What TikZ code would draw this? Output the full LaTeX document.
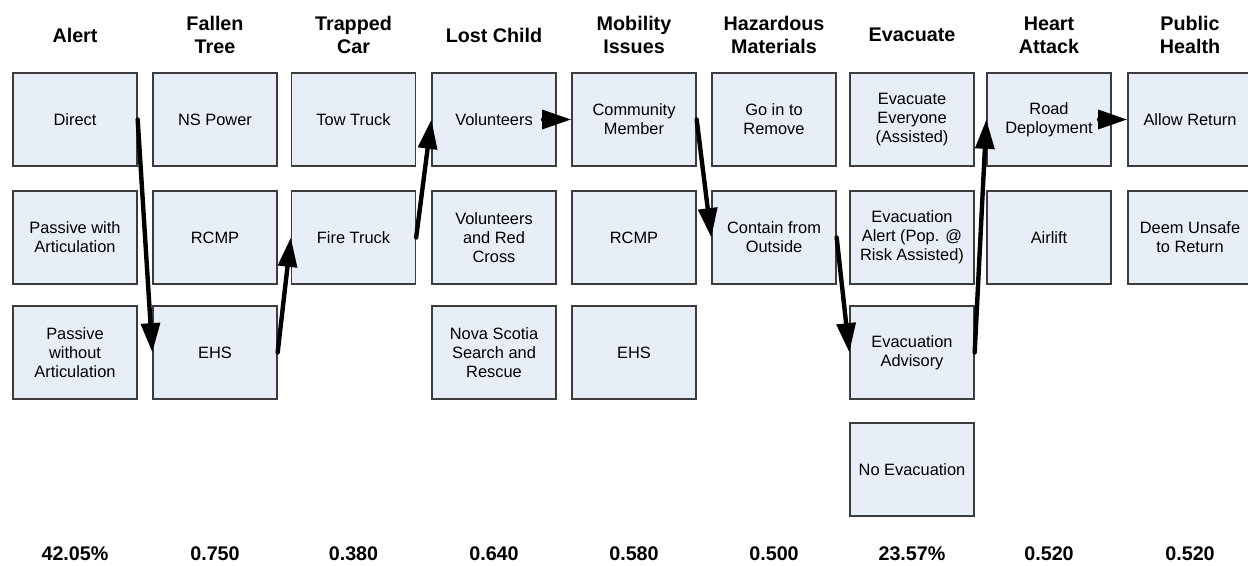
\documentclass[tikz,border=0pt]{standalone}
\usepackage{fontspec}
\setmainfont{Liberation Sans}
\usetikzlibrary{arrows.meta}
\definecolor{boxfill}{HTML}{E8EEF8}
\definecolor{boxline}{HTML}{3C3C3C}
\tikzset{
    choice/.style={draw=boxline, line width=1pt, fill=boxfill, minimum width=93pt,
        minimum height=69.75pt, inner sep=0pt, align=center,
        font=\fontsize{12.3}{14.2}\selectfont},
    title/.style={align=center, font=\fontsize{14.8}{17.2}\selectfont\bfseries},
    path/.style={line width=3.3pt, line cap=round, -{Triangle[length=22pt,width=14pt]}}
}
\begin{document}
\begin{tikzpicture}[x=0.75pt,y=-0.75pt]
            \useasboundingbox (0,0) rectangle (1248,565);
            % column titles
            \node[title] (hAlert) at (75,35) {Alert};
            \node[title] (hTree) at (215,35) {Fallen\\Tree};
            \node[title] (hCar) at (353.5,35) {Trapped\\Car};
            \node[title] (hChild) at (494,35) {Lost Child};
            \node[title] (hMobility) at (634,35) {Mobility\\Issues};
            \node[title] (hHazmat) at (774,35) {Hazardous\\Materials};
            \node[title] (hEvac) at (912,35) {Evacuate};
            \node[title] (hHeart) at (1049,35) {Heart\\Attack};
            \node[title] (hHealth) at (1190,35) {Public\\Health};
            % options
            \node[choice] (direct) at (75,119.5) {Direct};
            \node[choice] (passWith) at (75,237.5) {Passive with\\Articulation};
            \node[choice] (passWithout) at (75,352.5) {Passive\\without\\Articulation};
            \node[choice] (nsPower) at (215,119.5) {NS Power};
            \node[choice] (rcmpTree) at (215,237.5) {RCMP};
            \node[choice] (ehsTree) at (215,352.5) {EHS};
            \node[choice] (towTruck) at (353.5,119.5) {Tow Truck};
            \node[choice] (fireTruck) at (353.5,237.5) {Fire Truck};
            \node[choice] (volunteers) at (494,119.5) {Volunteers};
            \node[choice] (redCross) at (494,237.5) {Volunteers\\and Red\\Cross};
            \node[choice] (nsSar) at (494,352.5) {Nova Scotia\\Search and\\Rescue};
            \node[choice] (community) at (634,119.5) {Community\\Member};
            \node[choice] (rcmpMob) at (634,237.5) {RCMP};
            \node[choice] (ehsMob) at (634,352.5) {EHS};
            \node[choice] (goIn) at (774,119.5) {Go in to\\Remove};
            \node[choice] (contain) at (774,237.5) {Contain from\\Outside};
            \node[choice] (evacAll) at (912,119.5) {Evacuate\\Everyone\\(Assisted)};
            \node[choice] (evacAlert) at (912,237.5) {Evacuation\\Alert (Pop. @\\Risk Assisted)};
            \node[choice] (evacAdvisory) at (912,352.5) {Evacuation\\Advisory};
            \node[choice] (noEvac) at (912,469.5) {No Evacuation};
            \node[choice] (road) at (1049,119.5) {Road\\Deployment};
            \node[choice] (airlift) at (1049,237.5) {Airlift};
            \node[choice] (allowReturn) at (1190,119.5) {Allow Return};
            \node[choice] (unsafe) at (1190,237.5) {Deem Unsafe\\to Return};
            % scores
            \node[title] (sAlert) at (75,554) {42.05\%};
            \node[title] (sTree) at (215,554) {0.750};
            \node[title] (sCar) at (353.5,554) {0.380};
            \node[title] (sChild) at (494,554) {0.640};
            \node[title] (sMobility) at (634,554) {0.580};
            \node[title] (sHazmat) at (774,554) {0.500};
            \node[title] (sEvac) at (912,554) {23.57\%};
            \node[title] (sHeart) at (1049,554) {0.520};
            \node[title] (sHealth) at (1190,554) {0.520};
            % chosen path
            \draw[path] (direct.east) -- (ehsTree.west);
            \draw[path] (ehsTree.east) -- (fireTruck.west);
            \draw[path] (fireTruck.east) -- (volunteers.west);
            \draw[path] (volunteers.east) -- (community.west);
            \draw[path] (community.east) -- (contain.west);
            \draw[path] (contain.east) -- (evacAdvisory.west);
            \draw[path] (evacAdvisory.east) -- (road.west);
            \draw[path] (road.east) -- (allowReturn.west);
        \end{tikzpicture}
\end{document}
